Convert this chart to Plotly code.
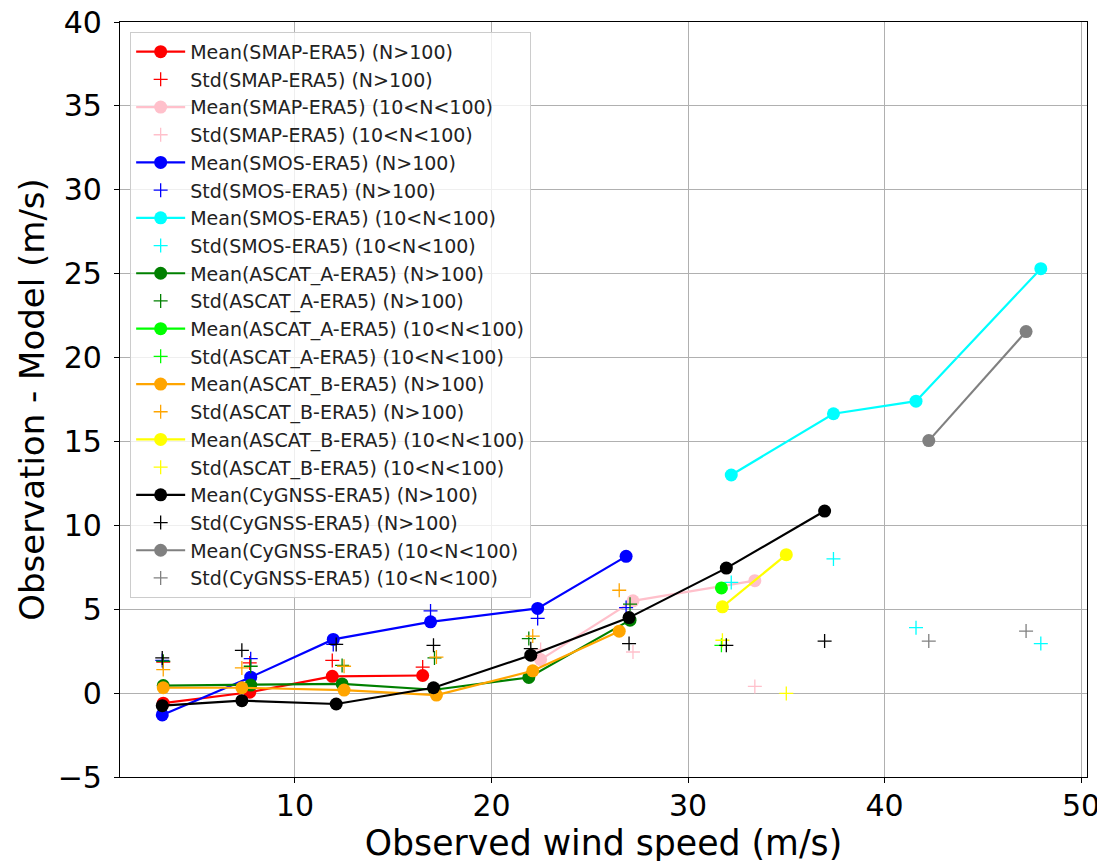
import plotly.graph_objects as go

# ---- data ----
smap_hi_x = [3.3, 7.7, 11.9, 16.5]
smap_hi_mean = [-0.6, 0.05, 1.0, 1.05]
smap_hi_std = [1.85, 1.8, 1.95, 1.55]

smap_lo_x = [22.5, 27.2, 33.4]
smap_lo_mean = [2.0, 5.5, 6.7]
smap_lo_std = [2.6, 2.45, 0.4]

smos_hi_x = [3.25, 7.75, 11.95, 16.9, 22.35, 26.85]
smos_hi_mean = [-1.3, 0.95, 3.2, 4.25, 5.05, 8.15]
smos_hi_std = [1.95, 2.05, 2.9, 4.9, 4.45, 5.1]

smos_lo_x = [32.2, 37.4, 41.6, 47.95]
smos_lo_mean = [13.0, 16.65, 17.4, 25.3]
smos_lo_std = [6.6, 8.0, 3.9, 2.95]

ascata_hi_x = [3.3, 7.75, 12.4, 17.1, 21.9, 27.05]
ascata_hi_mean = [0.45, 0.48, 0.55, 0.2, 0.93, 4.35]
ascata_hi_std = [1.9, 1.6, 1.65, 2.1, 3.25, 5.3]

ascata_lo_x = [31.7]
ascata_lo_mean = [6.27]
ascata_lo_std = [2.85]

ascatb_hi_x = [3.3, 7.3, 12.5, 17.2, 22.1, 26.5]
ascatb_hi_mean = [0.32, 0.32, 0.18, -0.12, 1.33, 3.69]
ascatb_hi_std = [1.4, 1.5, 1.6, 2.15, 3.4, 6.13]

ascatb_lo_x = [31.75, 35.0]
ascatb_lo_mean = [5.14, 8.25]
ascatb_lo_std = [3.15, -0.02]

cyg_hi_x = [3.25, 7.3, 12.1, 17.05, 22.0, 27.0, 31.95, 36.95]
cyg_hi_mean = [-0.75, -0.45, -0.65, 0.32, 2.26, 4.5, 7.45, 10.85]
cyg_hi_std = [2.1, 2.55, 2.9, 2.85, 2.65, 2.95, 2.85, 3.1]

cyg_lo_x = [42.25, 47.2]
cyg_lo_mean = [15.05, 21.55]
cyg_lo_std = [3.1, 3.7]

groups = [
    ("SMAP", "(N>100)", smap_hi_x, smap_hi_mean, smap_hi_std, "#ff0000"),
    ("SMAP", "(10<N<100)", smap_lo_x, smap_lo_mean, smap_lo_std, "#ffc0cb"),
    ("SMOS", "(N>100)", smos_hi_x, smos_hi_mean, smos_hi_std, "#0000ff"),
    ("SMOS", "(10<N<100)", smos_lo_x, smos_lo_mean, smos_lo_std, "#00ffff"),
    ("ASCAT_A", "(N>100)", ascata_hi_x, ascata_hi_mean, ascata_hi_std, "#008000"),
    ("ASCAT_A", "(10<N<100)", ascata_lo_x, ascata_lo_mean, ascata_lo_std, "#00ff00"),
    ("ASCAT_B", "(N>100)", ascatb_hi_x, ascatb_hi_mean, ascatb_hi_std, "#ffa500"),
    ("ASCAT_B", "(10<N<100)", ascatb_lo_x, ascatb_lo_mean, ascatb_lo_std, "#ffff00"),
    ("CyGNSS", "(N>100)", cyg_hi_x, cyg_hi_mean, cyg_hi_std, "#000000"),
    ("CyGNSS", "(10<N<100)", cyg_lo_x, cyg_lo_mean, cyg_lo_std, "#808080"),
]

fig = go.Figure()
for name, cond, xs, mean, std, col in groups:
    fig.add_trace(go.Scatter(
        x=xs, y=mean, mode="lines+markers",
        name=f"Mean({name}-ERA5) {cond}",
        line=dict(color=col, width=2.2),
        marker=dict(color=col, size=13, symbol="circle"),
    ))
    fig.add_trace(go.Scatter(
        x=xs, y=std, mode="markers",
        name=f"Std({name}-ERA5) {cond}",
        marker=dict(color=col, size=10, symbol="cross-thin",
                    line=dict(color=col, width=1.3)),
    ))

font_family = "DejaVu Sans"
fig.update_layout(
    width=1105, height=861,
    margin=dict(l=112, r=26, t=14, b=92, autoexpand=False),
    paper_bgcolor="white", plot_bgcolor="white",
    font=dict(family=font_family, color="black"),
    showlegend=True,
    legend=dict(
        x=0.0105, y=0.987, xanchor="left", yanchor="top",
        bgcolor="rgba(255,255,255,0.8)", bordercolor="#cccccc", borderwidth=1,
        font=dict(size=19, family=font_family, color="#222222"),
        tracegroupgap=0, itemwidth=49,
    ),
    xaxis=dict(
        range=[1.1, 50.3], tickvals=[10, 20, 30, 40, 50],
        showgrid=True, gridcolor="#b0b0b0", gridwidth=1,
        showline=True, linecolor="black", linewidth=1.2, mirror=True,
        ticks="outside", ticklen=5, tickcolor="black", automargin=False,
        tickfont=dict(size=30), zeroline=False, ticklabeloverflow="allow",
        ticklabelstandoff=-3,
        title=dict(text="Observed wind speed (m/s)", font=dict(size=34.7), standoff=0),
    ),
    yaxis=dict(
        range=[-5, 40], tickvals=list(range(-5, 45, 5)),
        showgrid=True, gridcolor="#b0b0b0", gridwidth=1,
        showline=True, linecolor="black", linewidth=1.2, mirror=True,
        ticks="outside", ticklen=5, tickcolor="black", automargin=False,
        tickfont=dict(size=30), zeroline=False, ticklabeloverflow="allow",
        ticklabelstandoff=6,
        title=dict(text="Observation - Model (m/s)", font=dict(size=34), standoff=2),
    ),
)

fig.write_html("out.html")
